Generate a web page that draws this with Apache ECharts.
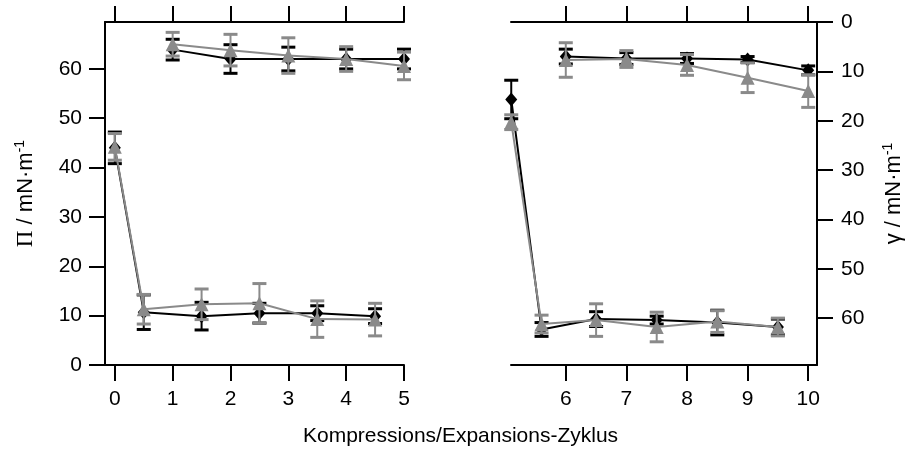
<!DOCTYPE html>
<html>
<head>
<meta charset="utf-8">
<script src="https://cdn.jsdelivr.net/npm/echarts@6/dist/echarts.min.js"></script>
<style>
  html, body { margin: 0; padding: 0; background: #fff; }
  #chart { width: 906px; height: 454px; }
</style>
</head>
<body>
<div id="chart"></div>
<script>
// x positions: expansion points sit between the cycles, compression points on them
const leftExpX = [0, 0.5, 1.5, 2.5, 3.5, 4.5];
const leftCompX = [1, 2, 3, 4, 5];
const rightExpX = [5.1, 5.6, 6.5, 7.5, 8.5, 9.5];
const rightCompX = [6, 7, 8, 9, 10];

// left panel: Π / mN·m-1
const blackLeftExp = [44, 10.7, 9.9, 10.5, 10.5, 9.9];
const blackLeftExpErr = [3.2, 3.5, 2.8, 2, 1.5, 1.5];
const blackLeftComp = [63.9, 62, 62, 62, 62];
const blackLeftCompErr = [2.1, 2.9, 2.4, 2, 2];
const greyLeftExp = [44.2, 11.3, 12.3, 12.5, 9.3, 9.2];
const greyLeftExpErr = [2.7, 3, 3.1, 4, 3.7, 3.3];
const greyLeftComp = [65, 63.8, 62.7, 62, 60.6];
const greyLeftCompErr = [2.4, 3.2, 3.6, 2.5, 2.8];

// right panel: γ / mN·m-1
const blackRightExp = [15.7, 62.3, 60.2, 60.4, 60.9, 61.8];
const blackRightExpErr = [3.9, 1.4, 1.5, 0.8, 2.5, 1.6];
const blackRightComp = [7.0, 7.4, 7.4, 7.6, 9.8];
const blackRightCompErr = [1.5, 1.2, 1, 0.6, 0.9];
const greyRightExp = [20.3, 61.2, 60.4, 61.8, 60.7, 61.8];
const greyRightExpErr = [1.5, 1.8, 3.3, 3, 2.2, 1.8];
const greyRightComp = [7.7, 7.5, 8.7, 11.3, 14];
const greyRightCompErr = [3.5, 1.7, 2.1, 3, 3.3];

const leftTicks = [0, 1, 2, 3, 4, 5];
const rightTicks = [6, 7, 8, 9, 10];
const yTicks = [0, 10, 20, 30, 40, 50, 60];

const BLACK = '#000000';
const GREY = '#8a8a8a';
const FONT = 'Liberation Sans';

function errRender(color) {
    return function (params, api) {
        const x = api.value(0), y = api.value(1), e = api.value(2);
        const a = api.coord([x, y + e]);
        const b = api.coord([x, y - e]);
        const w = 7;
        const st = { stroke: color, lineWidth: 2 };
        const cap = { stroke: color, lineWidth: 3 };
        return {
            type: 'group',
            children: [
                { type: 'line', shape: { x1: a[0], y1: a[1], x2: b[0], y2: b[1] }, style: st },
                { type: 'line', shape: { x1: a[0] - w, y1: a[1], x2: a[0] + w, y2: a[1] }, style: cap },
                { type: 'line', shape: { x1: b[0] - w, y1: b[1], x2: b[0] + w, y2: b[1] }, style: cap }
            ]
        };
    };
}

function zip(xs, ys) { return xs.map((x, i) => [x, ys[i]]); }
function zip3(xs, ys, es) { return xs.map((x, i) => [x, ys[i], es[i]]); }

function group(xs, ys, es, color, sym, axis, z) {
    const symSize = sym === 'diamond' ? [12, 14] : 14;
    return [
        {
            type: 'custom', xAxisIndex: axis, yAxisIndex: axis / 2, z: z, clip: false,
            renderItem: errRender(color),
            encode: { x: 0, y: 1 },
            data: zip3(xs, ys, es)
        },
        {
            type: 'line', xAxisIndex: axis, yAxisIndex: axis / 2, z: z, clip: false,
            symbol: sym, symbolSize: symSize, showAllSymbol: true,
            lineStyle: { color: color, width: 2 },
            itemStyle: { color: color },
            animation: false,
            data: zip(xs, ys)
        }
    ];
}

const axisLineStyle = { onZero: false, lineStyle: { color: '#000', width: 2 } };
const tickStyle = { lineStyle: { color: '#000', width: 2 } };
const labelStyle = { color: '#000', fontSize: 21, fontFamily: FONT };

function xAxisDef(grid, min, max, ticks, pos) {
    return {
        type: 'value', gridIndex: grid, position: pos, min: min, max: max,
        axisLine: axisLineStyle,
        axisTick: Object.assign({ customValues: ticks, length: 16, inside: false }, tickStyle),
        axisLabel: Object.assign({ show: pos === 'bottom', customValues: ticks, margin: 24 }, labelStyle),
        splitLine: { show: false }
    };
}

const nameRich = {
    pi: { fontFamily: 'Liberation Serif', fontSize: 23, color: '#000' },
    g: { fontFamily: FONT, fontSize: 22, color: '#000' },
    sup: { fontFamily: FONT, fontSize: 14, color: '#000', verticalAlign: 'top', padding: [0, 0, 12, 0] }
};

const chart = echarts.init(document.getElementById('chart'));
chart.setOption({
    animation: false,
    backgroundColor: '#fff',
    textStyle: { fontFamily: FONT },
    grid: [
        { left: 105, top: 22, width: 299, height: 343 },
        { left: 511, top: 22, width: 315, height: 343 }
    ],
    xAxis: [
        xAxisDef(0, -0.17, 5, leftTicks, 'bottom'),
        xAxisDef(0, -0.17, 5, leftTicks, 'top'),
        xAxisDef(1, 5.096, 10.145, rightTicks, 'bottom'),
        xAxisDef(1, 5.096, 10.145, rightTicks, 'top')
    ],
    yAxis: [
        {
            type: 'value', gridIndex: 0, position: 'left', min: 0, max: 69.5,
            axisLine: axisLineStyle,
            axisTick: Object.assign({ customValues: yTicks, length: 16 }, tickStyle),
            axisLabel: Object.assign({ customValues: yTicks, margin: 23 }, labelStyle),
            splitLine: { show: false },
            name: '{pi|Π}{g| / mN·m}{sup|-1}',
            nameLocation: 'middle', nameRotate: 90, nameGap: 66,
            nameTextStyle: { rich: nameRich }
        },
        {
            type: 'value', gridIndex: 1, position: 'right', min: 0, max: 69.5, inverse: true,
            axisLine: axisLineStyle,
            axisTick: Object.assign({ customValues: yTicks, length: 16 }, tickStyle),
            axisLabel: Object.assign({ customValues: yTicks, margin: 24 }, labelStyle),
            splitLine: { show: false },
            name: '{g|γ / mN·m}{sup|-1}',
            nameLocation: 'middle', nameRotate: 90, nameGap: 64,
            nameTextStyle: { rich: nameRich }
        }
    ],
    graphic: [{
        type: 'text', left: 303, top: 426,
        style: { text: 'Kompressions/Expansions-Zyklus', fontSize: 21, fontFamily: FONT, fill: '#000' }
    }],
    series: [].concat(
        group(leftExpX, blackLeftExp, blackLeftExpErr, BLACK, 'diamond', 0, 2),
        group(leftCompX, blackLeftComp, blackLeftCompErr, BLACK, 'diamond', 0, 2),
        group(rightExpX, blackRightExp, blackRightExpErr, BLACK, 'diamond', 2, 2),
        group(rightCompX, blackRightComp, blackRightCompErr, BLACK, 'diamond', 2, 2),
        group(leftExpX, greyLeftExp, greyLeftExpErr, GREY, 'triangle', 0, 3),
        group(leftCompX, greyLeftComp, greyLeftCompErr, GREY, 'triangle', 0, 3),
        group(rightExpX, greyRightExp, greyRightExpErr, GREY, 'triangle', 2, 3),
        group(rightCompX, greyRightComp, greyRightCompErr, GREY, 'triangle', 2, 3)
    )
});
</script>
</body>
</html>
